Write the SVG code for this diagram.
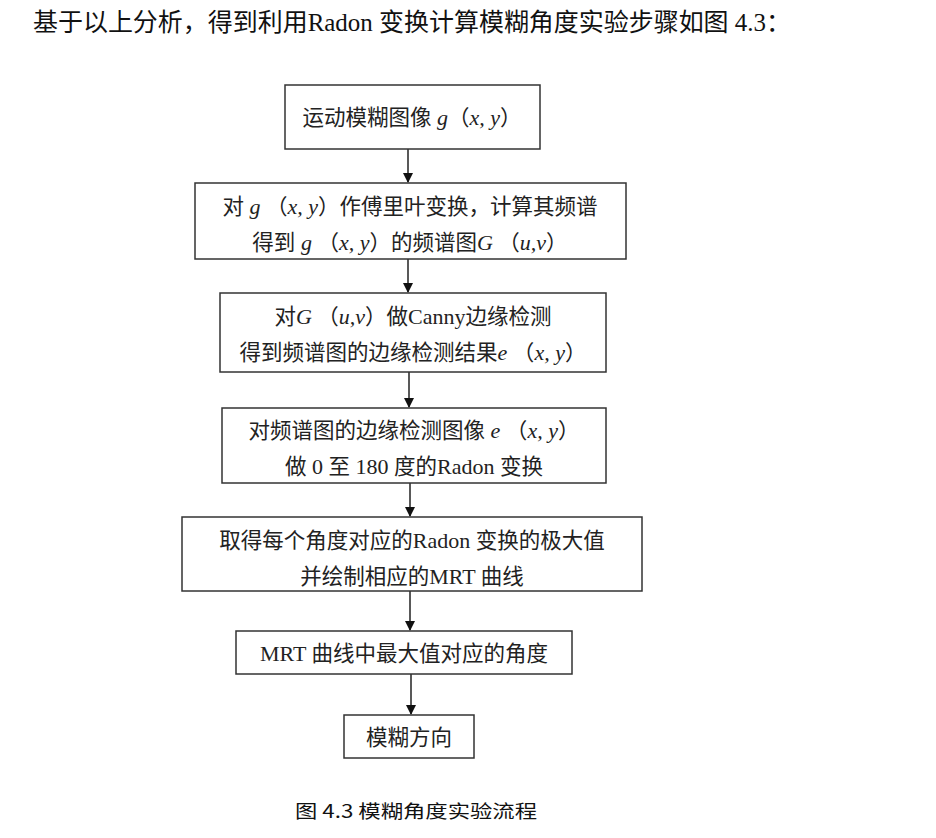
<svg xmlns="http://www.w3.org/2000/svg" width="936" height="838" viewBox="0 0 936 838">
<style>
.box{fill:#fff;stroke:#333;stroke-width:1.5}
.t{font-family:"Noto Sans CJK SC","Liberation Sans",sans-serif;font-size:21.5px;fill:#222;text-anchor:middle}
.m{font-family:"Liberation Serif",serif;font-style:italic;font-size:22px}
.r{font-family:"Liberation Serif",serif;font-size:22px}
.hd{font-family:"Liberation Serif","Noto Sans CJK SC",serif;font-size:25px;fill:#111}
.cap{font-family:"Noto Sans CJK SC","Liberation Sans",sans-serif;font-size:18px;font-weight:400;fill:#111}
.ln{stroke:#222;stroke-width:1.5;fill:none}
</style>
<defs>
<marker id="ah" markerWidth="10" markerHeight="10" refX="9" refY="5" orient="auto" markerUnits="userSpaceOnUse">
<path d="M0,0 L10,5 L0,10 Z" fill="#111"/>
</marker>
</defs>
<rect width="936" height="838" fill="#fff"/>
<text class="hd" x="33" y="31" textLength="758" lengthAdjust="spacingAndGlyphs">基于以上分析，得到利用Radon 变换计算模糊角度实验步骤如图 4.3：</text>

<g id="connectors">
<line class="ln" x1="408" y1="149" x2="408" y2="182" marker-end="url(#ah)"/>
<line class="ln" x1="408" y1="259" x2="408" y2="292" marker-end="url(#ah)"/>
<line class="ln" x1="409" y1="372" x2="409" y2="407" marker-end="url(#ah)"/>
<line class="ln" x1="410" y1="483" x2="410" y2="516" marker-end="url(#ah)"/>
<line class="ln" x1="410" y1="591" x2="410" y2="630" marker-end="url(#ah)"/>
<line class="ln" x1="411" y1="674" x2="411" y2="714" marker-end="url(#ah)"/>
</g>

<g id="n1">
<rect class="box" x="285" y="85" width="255" height="64"/>
<text class="t" x="412" y="125">运动模糊图像<tspan class="m"> g</tspan>（<tspan class="m">x, y</tspan>）</text>
</g>
<g id="n2">
<rect class="box" x="195" y="183" width="431" height="76"/>
<text class="t" x="410" y="214">对<tspan class="m"> g </tspan>（<tspan class="m">x, y</tspan>）作傅里叶变换，计算其频谱</text>
<text class="t" x="410" y="250">得到<tspan class="m"> g </tspan>（<tspan class="m">x, y</tspan>）的频谱图<tspan class="m">G </tspan>（<tspan class="m">u,v</tspan>）</text>
</g>
<g id="n3">
<rect class="box" x="220" y="293" width="386" height="79"/>
<text class="t" x="413" y="324">对<tspan class="m">G </tspan>（<tspan class="m">u,v</tspan>）做<tspan class="r">Canny</tspan>边缘检测</text>
<text class="t" x="413" y="360">得到频谱图的边缘检测结果<tspan class="m">e </tspan>（<tspan class="m">x, y</tspan>）</text>
</g>
<g id="n4">
<rect class="box" x="222" y="408" width="384" height="75"/>
<text class="t" x="414" y="438">对频谱图的边缘检测图像<tspan class="m"> e </tspan>（<tspan class="m">x, y</tspan>）</text>
<text class="t" x="414" y="474">做<tspan class="r"> 0 </tspan>至<tspan class="r"> 180 </tspan>度的<tspan class="r">Radon </tspan>变换</text>
</g>
<g id="n5">
<rect class="box" x="182" y="517" width="460" height="74"/>
<text class="t" x="412" y="548">取得每个角度对应的<tspan class="r">Radon </tspan>变换的极大值</text>
<text class="t" x="412" y="584">并绘制相应的<tspan class="r">MRT </tspan>曲线</text>
</g>
<g id="n6">
<rect class="box" x="236" y="631" width="336" height="43"/>
<text class="t" x="404" y="661"><tspan class="r">MRT </tspan>曲线中最大值对应的角度</text>
</g>
<g id="n7">
<rect class="box" x="344" y="715" width="130" height="43"/>
<text class="t" x="409" y="745">模糊方向</text>
</g>

<text class="cap" x="295" y="818" textLength="242" lengthAdjust="spacingAndGlyphs">图 4.3 模糊角度实验流程</text>
</svg>
